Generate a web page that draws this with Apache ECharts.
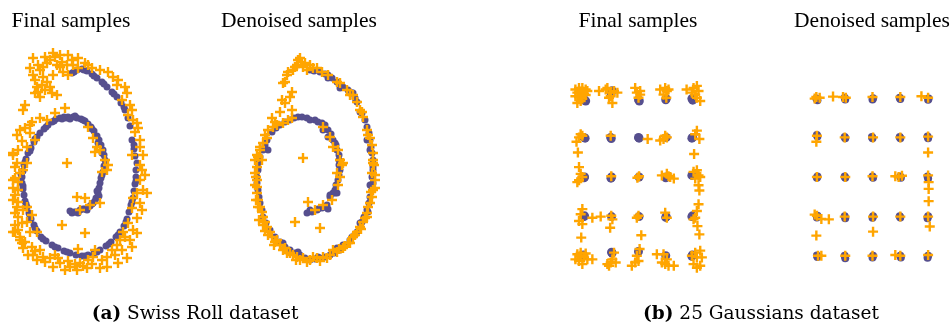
<!DOCTYPE html>
<html>
<head>
<meta charset="utf-8">
<script src="https://cdn.jsdelivr.net/npm/echarts@6/dist/echarts.min.js"></script>
<style>
  html, body { margin: 0; padding: 0; background: #ffffff; }
  #chart { width: 952px; height: 325px; }
</style>
</head>
<body>
<div id="chart"></div>
<script>
// ---- Panel titles and captions ----
const panelTitles = ['Final samples', 'Denoised samples', 'Final samples', 'Denoised samples'];
const captionA = ['(a)', 'Swiss Roll dataset'];
const captionB = ['(b)', '25 Gaussians dataset'];

// ---- Swiss roll: final samples ----
const swissFinalData = [
  [-0.08,-0.48],[-0.06,-0.47],[-0.04,-0.47],[0.00,-0.45],[0.03,-0.44],[0.05,-0.44],[0.10,-0.41],[0.13,-0.38],
  [0.16,-0.33],[0.18,-0.28],[0.17,-0.26],[0.19,-0.23],[0.20,-0.18],[0.21,-0.13],[0.23,-0.07],[0.24,-0.01],
  [0.25,0.05],[0.24,0.10],[0.23,0.15],[0.21,0.20],[0.19,0.25],[0.17,0.29],[0.14,0.34],[0.11,0.38],
  [0.08,0.41],[0.05,0.44],[0.01,0.46],[-0.03,0.47],[-0.07,0.48],[-0.12,0.48],[-0.14,0.47],[-0.16,0.48],
  [-0.20,0.47],[-0.24,0.46],[-0.28,0.43],[-0.32,0.40],[-0.36,0.36],[-0.40,0.32],[-0.43,0.28],[-0.46,0.23],
  [-0.49,0.17],[-0.52,0.12],[-0.54,0.06],[-0.56,0.00],[-0.57,-0.06],[-0.58,-0.12],[-0.58,-0.18],[-0.57,-0.24],
  [-0.56,-0.30],[-0.55,-0.36],[-0.53,-0.42],[-0.51,-0.48],[-0.49,-0.54],[-0.46,-0.60],[-0.43,-0.66],[-0.39,-0.72],
  [-0.34,-0.76],[-0.28,-0.80],[-0.22,-0.83],[-0.16,-0.86],[-0.10,-0.88],[-0.04,-0.90],[0.02,-0.91],[0.08,-0.90],
  [0.14,-0.88],[0.20,-0.85],[0.26,-0.81],[0.31,-0.77],[0.36,-0.72],[0.40,-0.67],[0.44,-0.61],[0.47,-0.54],
  [0.49,-0.47],[0.51,-0.40],[0.53,-0.33],[0.54,-0.26],[0.55,-0.19],[0.56,-0.12],[0.56,-0.05],[0.57,0.02],
  [0.55,0.09],[0.54,0.16],[0.52,0.25],[0.50,0.39],[0.48,0.47],[0.45,0.55],[0.41,0.62],[0.37,0.68],
  [0.32,0.73],[0.27,0.78],[0.22,0.83],[0.17,0.87],[0.12,0.91],[0.07,0.94],[0.02,0.96],[-0.03,0.95],[-0.08,0.92],
  [-0.10,-0.46],[-0.02,-0.48],[0.07,-0.45],[0.12,-0.39],[0.15,-0.36],[0.19,-0.31],[0.22,-0.10],[0.25,0.00],
  [0.22,0.12],[0.18,0.22],[0.12,0.36],[0.03,0.45],[-0.05,0.49],[-0.10,0.46],[-0.18,0.46],[-0.26,0.44],
  [-0.34,0.38],[-0.45,0.26],[-0.50,0.14],[-0.55,0.03],[-0.59,-0.09],[-0.57,-0.21],[-0.54,-0.39],[-0.50,-0.51],
  [-0.45,-0.63],[-0.37,-0.74],[-0.25,-0.82],[-0.13,-0.87],[0.05,-0.91],[0.17,-0.87],[0.29,-0.79],[0.38,-0.70],
  [0.46,-0.57],[0.52,-0.37],[0.56,-0.16],[0.54,0.20],[0.44,0.58],[0.34,0.71],[0.24,0.81],[0.14,0.89],
  [0.04,0.95],[-0.06,0.93]
];
const swissFinalSamples = [
  [-0.47,1.07],[-0.27,1.12],[-0.25,1.08],[-0.12,1.10],[-0.02,1.07],[0.05,1.02],[0.08,1.00],[-0.50,0.97],
  [-0.47,0.90],[-0.42,1.00],[-0.37,0.98],[-0.33,1.02],[-0.30,1.05],[-0.23,1.00],[-0.18,1.03],[-0.13,1.00],
  [-0.07,1.00],[-0.02,0.97],[-0.17,0.93],[-0.12,0.90],[-0.27,0.90],[-0.37,0.88],[-0.33,0.83],[-0.38,0.80],
  [-0.43,0.78],[-0.30,0.78],[-0.28,0.72],[-0.23,0.70],[-0.40,0.68],[-0.45,0.72],[-0.42,0.73],[-0.20,1.10],
  [-0.35,1.08],
  [0.20,0.95],[0.28,0.93],[0.37,0.80],[0.38,0.85],[0.47,0.72],[0.42,0.65],[0.50,0.60],[0.52,0.55],
  [0.48,0.50],[0.53,0.45],[0.58,0.37],[0.55,0.33],[0.60,0.25],[0.60,0.18],[0.63,0.10],[0.52,0.10],
  [0.60,0.00],[0.65,-0.10],[0.60,-0.15],[0.63,-0.25],[0.57,-0.28],[0.67,-0.28],[0.53,-0.33],[0.60,-0.38],
  [0.52,-0.43],[0.57,-0.53],[0.48,-0.58],[0.53,-0.65],[0.43,-0.67],[0.40,-0.75],[0.50,-0.75],[0.52,-0.82],
  [0.37,-0.80],[0.35,-0.90],[0.47,-0.93],[0.38,-0.98],[0.27,-0.92],[0.27,-1.02],[0.20,-1.03],[0.13,-0.92],
  [0.15,-0.85],[0.08,-0.95],[0.07,-1.03],[0.00,-0.98],[-0.03,-1.05],[-0.10,-1.02],[-0.15,-1.05],[-0.20,-0.98],
  [-0.27,-1.02],[-0.30,-0.93],[-0.25,-0.90],[-0.37,-0.92],[-0.40,-0.85],[-0.43,-0.95],[-0.47,-0.90],[-0.52,-0.90],
  [-0.48,-0.82],[-0.57,-0.83],[-0.55,-0.77],[-0.60,-0.72],[-0.65,-0.67],[-0.62,-0.65],[-0.50,-0.67],[-0.43,-0.67],
  [-0.65,-0.60],[-0.58,-0.58],[-0.53,-0.57],[-0.48,-0.50],[-0.57,-0.45],[-0.53,-0.42],[-0.62,-0.37],[-0.65,-0.30],
  [-0.62,-0.25],[-0.67,-0.23],[-0.62,-0.17],[-0.65,-0.13],[-0.57,-0.05],[-0.63,0.02],[-0.53,0.02],[-0.67,0.12],
  [-0.65,-0.02],[-0.67,-0.15],[-0.67,-0.35],[-0.65,-0.48],[-0.67,-0.67],[-0.60,-0.75],
  [-0.15,0.57],[-0.25,0.52],[-0.33,0.45],[-0.40,0.47],[-0.48,0.43],[-0.57,0.55],[-0.55,0.37],[-0.60,0.35],
  [-0.50,0.32],[-0.45,0.25],[-0.62,0.15],[-0.67,0.10],[-0.53,0.18],[-0.55,0.60],
  [0.08,0.38],[0.13,0.27],[0.17,0.18],[0.20,0.15],[0.15,0.13],[0.25,0.05],[0.28,0.00],[0.22,-0.07],[0.27,-0.05],
  [-0.13,0.02],[-0.03,-0.32],[0.05,-0.33],[0.10,-0.40],[0.00,-0.45],[0.20,-0.38],[-0.18,-0.60],[0.05,-0.68],[-0.02,-0.84],
  [-0.58,-0.78],[-0.45,-0.86],[-0.35,-0.97],[-0.22,-0.93],[-0.12,-0.96],[-0.05,-0.99],[0.03,-1.01],[0.12,-0.99],
  [0.22,-0.95],[0.32,-0.85],[0.42,-0.85],[0.45,-0.72],[-0.62,-0.52],[-0.60,-0.08],[-0.63,-0.42],[-0.58,0.24],
  [-0.63,0.30],[-0.50,0.40],[-0.20,0.98],[-0.08,1.05],[-0.40,0.95],[-0.45,0.85],[-0.35,0.75],[0.12,0.97],
  [0.33,0.88],[0.45,0.78],[0.57,0.42],[0.62,-0.05],[0.62,-0.45],[0.57,-0.68]
];

// ---- Swiss roll: denoised samples ----
const swissDenoisedData = [
  [-0.13,-0.48],[-0.08,-0.47],[-0.03,-0.45],[0.02,-0.43],[0.07,-0.40],[0.08,-0.44],[-0.10,-0.45],[0.10,-0.32],
  [0.13,-0.28],[0.15,-0.25],[0.17,-0.28],[0.18,-0.15],[0.20,-0.05],[0.19,0.05],[0.17,0.15],[0.13,0.25],
  [0.08,0.35],[0.02,0.42],[-0.05,0.45],[-0.13,0.47],[-0.22,0.48],[-0.18,0.48],[-0.10,0.45],[0.03,0.35],
  [0.15,0.22],[-0.30,0.45],[-0.40,0.40],[-0.48,0.33],[-0.53,0.25],[-0.52,0.15],[-0.57,0.15],[-0.62,0.02],
  [-0.63,-0.12],[-0.62,-0.25],[-0.60,-0.38],[-0.57,-0.52],[-0.50,-0.65],[-0.40,-0.77],[-0.37,-0.78],[-0.30,-0.85],
  [-0.20,-0.90],[-0.22,-0.87],[-0.10,-0.95],[0.00,-0.93],[-0.02,-0.92],[0.10,-0.90],[0.17,-0.83],[0.20,-0.85],
  [0.23,-0.80],[0.30,-0.75],[0.32,-0.72],[0.37,-0.67],[0.40,-0.58],[0.42,-0.57],[0.47,-0.45],[0.48,-0.47],
  [0.50,-0.32],[0.50,-0.20],[0.53,-0.18],[0.52,-0.12],[0.53,-0.05],[0.53,-0.02],[0.52,0.12],[0.50,0.25],
  [0.47,0.25],[0.50,0.15],[0.47,0.38],[0.42,0.52],[0.40,0.53],[0.37,0.63],[0.35,0.67],[0.33,0.72],[0.32,0.72],
  [0.23,0.78],[0.20,0.77],[0.17,0.83],[0.08,0.90],[0.05,0.91],[0.08,0.87],[-0.10,0.95],
  [-0.02,0.43],[0.08,0.28],[0.10,-0.30],[0.15,-0.28],[-0.02,-0.44],
  [-0.55,0.20],[-0.60,0.08],[-0.62,-0.05],[-0.63,-0.18],[-0.61,-0.32],[-0.58,-0.45],[-0.54,-0.58],[-0.45,-0.72],
  [-0.35,-0.82],[-0.25,-0.88],[-0.15,-0.93],[-0.05,-0.94],[0.05,-0.92],[0.14,-0.88],[0.26,-0.80],[0.35,-0.70],
  [0.44,-0.52],[0.49,-0.38],[0.52,-0.25],[0.53,0.05],[0.51,0.18],[0.49,0.32],[0.45,0.45],[0.28,0.75],
  [0.12,0.87],[0.00,0.93],[-0.06,0.94],[-0.35,0.43],[-0.44,0.37],[-0.26,0.47],[0.05,0.40],[0.11,0.31],
  [0.16,0.20],[0.19,0.10],[0.19,0.00],[0.19,-0.10],[0.16,-0.20],[0.05,-0.42]
];
const swissDenoisedSamples = [
  [-0.22,1.05],[-0.23,1.00],[-0.17,0.98],[-0.10,1.00],[-0.03,0.97],[0.02,0.93],[-0.27,0.95],[-0.32,0.93],
  [-0.33,0.90],[-0.35,0.83],[-0.37,0.82],[-0.28,0.73],[-0.30,0.68],[-0.38,0.65],[-0.35,0.62],[-0.40,0.53],
  [-0.28,0.55],[-0.28,0.47],[-0.48,0.47],[-0.47,0.38],[-0.52,0.35],[-0.43,0.40],[-0.37,0.42],[-0.32,0.45],
  [-0.53,0.27],[-0.57,0.22],[-0.60,0.15],[-0.62,0.08],[-0.58,0.05],[-0.15,1.02],[-0.20,1.07],[-0.07,0.97],
  [-0.13,0.95],
  [-0.17,0.07],[-0.12,-0.37],[-0.25,-0.57],[0.00,-0.63],[0.12,-0.35],[-0.05,-0.45],[0.03,-0.40],
  [0.08,0.90],[0.17,0.83],[0.27,0.75],[0.30,0.70],[0.37,0.63],[0.40,0.55],[0.43,0.48],[0.47,0.35],
  [0.48,0.30],[0.52,0.20],[0.53,0.12],[0.53,0.05],
  [0.03,0.38],[0.10,0.28],[0.13,0.18],[0.18,0.15],[0.20,0.05],[0.22,0.00],[0.23,0.02],[0.17,-0.08],
  [0.20,-0.12],[0.18,-0.20],
  [0.53,0.02],[0.52,-0.08],[0.53,-0.25],[0.52,-0.32],[0.48,-0.42],[0.47,-0.48],[0.43,-0.57],[0.40,-0.62],
  [0.37,-0.67],[0.33,-0.72],[0.28,-0.78],[0.23,-0.83],[0.17,-0.87],[0.10,-0.90],[0.03,-0.92],[-0.03,-0.93],
  [-0.10,-0.95],[-0.17,-0.93],[-0.23,-0.92],[-0.30,-0.88],[-0.37,-0.85],[-0.40,-0.80],[-0.45,-0.77],[-0.48,-0.72],
  [-0.50,-0.67],[-0.53,-0.62],[-0.55,-0.57],[-0.57,-0.52],[-0.58,-0.47],[-0.60,-0.42],[-0.62,-0.35],[-0.63,-0.28],
  [-0.63,-0.22],[-0.63,-0.15],[-0.65,-0.08],[-0.63,-0.02],
  [-0.52,-0.70],[-0.43,-0.75],[-0.35,-0.83],[-0.27,-0.90],[-0.20,-0.95],[-0.13,-0.97],[-0.07,-0.92],[0.07,-0.93],
  [0.13,-0.85],[0.25,-0.81],[0.35,-0.70],[0.45,-0.53],[0.50,-0.38],[0.55,-0.23],[0.55,-0.10],[-0.57,-0.60],
  [-0.65,-0.20],[-0.65,0.05],
  [-0.64,-0.35],[-0.61,-0.55],[-0.55,-0.66],[-0.46,-0.80],[-0.33,-0.88],[-0.24,-0.95],[0.00,-0.96],[0.19,-0.84],
  [0.30,-0.78],[0.41,-0.64],[0.47,-0.52],[0.51,-0.27],[0.55,-0.15],[0.54,0.00],[0.50,0.27],[0.42,0.53],
  [0.33,0.70],[0.20,0.82],[-0.25,0.98],[-0.19,1.03],[-0.45,0.43],[-0.55,0.30],[-0.60,0.18],[-0.63,0.10],
  [-0.64,-0.12],[-0.62,-0.42]
];

// ---- 25 Gaussians: final samples ----
const gaussFinalData = [
  [-1.90,1.92],[-1.95,1.95],[-0.95,2.18],[-0.98,2.12],[0.00,1.95],[0.03,1.92],[1.00,1.98],[0.98,1.95],[1.95,1.94],[1.92,1.98],
  [-1.96,1.00],[-1.92,0.98],[-1.00,1.00],[-0.98,0.97],[0.00,1.00],[0.02,0.98],[1.00,1.00],[1.95,1.00],[1.92,0.98],
  [-1.94,0.00],[-1.96,-0.02],[-0.97,0.00],[-0.99,-0.03],[0.02,0.00],[1.00,0.00],[0.98,-0.02],[1.92,0.04],
  [-1.96,-1.00],[-1.94,-0.98],[-0.97,-1.00],[0.02,-1.00],[0.98,-1.02],[1.00,-1.00],[1.92,-1.00],[1.94,-0.98],
  [-1.98,-1.97],[-0.95,-1.92],[-0.97,-1.90],[0.00,-1.88],[0.98,-1.99],[1.92,-2.00],[1.94,-1.97]
];
const gaussFinalSamples = [
  [-2.27,2.21],[-2.14,2.25],[-2.02,2.25],[-1.90,2.21],[-2.20,2.13],[-2.08,2.15],[-1.96,2.10],[-1.84,2.17],
  [-2.14,2.02],[-2.02,1.98],[-2.27,2.04],[-2.20,1.87],[-2.08,1.92],[-1.90,2.07],[-1.42,2.17],
  [-1.12,2.25],[-1.00,2.13],[-0.88,2.17],[-0.76,2.13],[-1.06,2.00],[-0.94,1.87],[-1.18,2.21],[-1.00,2.04],
  [-0.12,2.25],[-0.06,2.13],[0.06,2.08],[0.00,2.00],[0.06,2.17],
  [0.78,2.21],[0.96,2.25],[1.02,2.17],[1.08,2.21],[0.90,2.08],[1.00,2.00],
  [1.73,2.21],[1.98,2.25],[2.10,2.30],[2.16,2.17],[2.04,2.08],[2.22,1.92],[2.10,2.00],[1.92,2.13],
  [-2.08,1.08],[-2.02,1.04],[-2.14,1.00],[-2.23,0.89],[-2.18,0.62],[-1.00,1.04],[0.33,0.96],
  [0.96,1.04],[0.78,0.92],[0.90,0.96],[1.02,1.00],[2.10,1.17],[2.04,1.08],[2.19,0.96],[2.00,0.58],
  [-2.14,0.25],[-2.08,0.08],[-2.02,0.00],[-2.14,-0.08],[-2.20,-0.13],[-0.98,0.02],[0.02,0.02],[-0.04,-0.02],
  [0.84,0.04],[1.02,0.08],[1.14,0.00],[1.27,-0.04],[1.08,0.02],
  [1.98,0.13],[2.10,0.17],[2.16,0.04],[2.04,-0.04],[2.22,0.00],[2.16,-0.21],[2.19,-0.34],
  [-2.02,-0.81],[-2.08,-0.94],[-2.14,-1.11],[-2.02,-1.19],[-1.66,-1.03],[-1.36,-1.00],[-2.06,-1.53],
  [-0.98,-0.98],[-0.94,-1.07],[-1.02,-1.28],[0.00,-0.98],[-0.06,-1.03],[0.10,-1.47],[0.96,-0.90],[1.02,-1.03],
  [2.16,-0.69],[2.10,-0.86],[2.04,-1.03],[1.98,-1.07],[2.12,-1.24],[2.19,-1.45],
  [-2.20,-1.95],[-2.08,-1.91],[-1.96,-2.03],[-2.14,-2.12],[-2.02,-2.20],[-1.84,-2.08],[-1.66,-2.08],[-2.27,-2.08],
  [-2.08,-1.99],[-1.90,-1.93],
  [-0.88,-1.91],[-0.94,-2.08],[-1.00,-2.16],[-1.06,-2.24],[-0.82,-2.16],[-1.12,-2.20],
  [0.04,-1.82],[-0.06,-1.99],[0.00,-2.12],[-0.12,-2.16],[-0.24,-2.24],
  [0.66,-1.95],[0.90,-1.95],[1.02,-2.08],[0.96,-2.20],[1.08,-2.24],[1.27,-2.24],[0.84,-2.16],
  [2.04,-1.91],[2.22,-1.86],[2.10,-2.03],[2.28,-2.03],[1.98,-2.20],[2.22,-2.24],[2.10,-2.29],[1.92,-1.99]
];

// ---- 25 Gaussians: denoised samples ----
const gaussDenoisedData = [
  [-1.98,1.94],[-2.02,1.98],[-0.98,1.96],[-1.00,2.00],[0.00,1.96],[0.02,1.99],[1.00,1.97],[0.98,2.00],[2.00,1.95],[2.02,1.98],
  [-2.00,1.06],[-1.98,1.02],[-0.98,0.98],[-1.00,1.01],[0.00,0.98],[-0.02,1.01],[1.00,0.98],[0.98,1.01],[2.00,0.98],[1.98,1.02],
  [-2.00,-0.02],[-1.98,0.01],[-0.98,-0.02],[-1.00,0.01],[0.02,-0.02],[0.00,0.01],[1.02,-0.02],[1.00,0.01],[2.00,-0.04],[1.98,0.01],
  [-2.00,-1.02],[-1.98,-0.98],[-0.98,-1.04],[-1.00,-0.99],[0.00,-1.03],[0.02,-0.99],[1.00,-1.02],[0.98,-0.99],[1.98,-1.04],[2.00,-0.99],
  [-1.98,-2.02],[-2.00,-1.98],[-0.98,-2.05],[-1.00,-1.99],[0.00,-2.03],[0.02,-1.99],[1.02,-2.03],[1.00,-1.99],[1.98,-2.04],[2.00,-1.99]
];
const gaussDenoisedSamples = [
  [-2.02,2.02],[-1.90,2.00],[-2.08,1.98],[-1.42,2.03],[-1.06,2.02],[-0.96,2.00],[0.00,2.02],[1.00,2.02],[1.76,2.04],[2.00,2.00],
  [-2.00,1.04],[-2.02,0.89],[-1.00,1.00],[0.02,1.00],[1.00,1.00],[2.00,1.02],[2.00,0.62],
  [-2.00,0.00],[-0.98,0.00],[0.00,0.02],[0.82,0.02],[1.06,0.03],[0.94,0.00],[2.00,0.04],[2.02,-0.13],[2.02,-0.30],[2.02,-0.61],
  [-2.00,-0.98],[-1.84,-1.06],[-1.57,-1.07],[-2.02,-1.48],[-1.00,-1.00],[0.02,-1.00],[0.02,-1.38],[1.00,-1.00],[2.00,-1.00],
  [2.06,-1.25],[-2.08,-0.95],
  [-1.96,-1.99],[-1.84,-1.99],[-0.98,-1.99],[0.00,-1.99],[0.82,-1.97],[1.00,-1.99],[2.00,-1.97]
];

const DATA_COLOR = '#564f8e';
const SAMPLE_COLOR = '#ffa500';
const PLUS = 'path://M3.8,0H6.2V10H3.8Z M0,3.8H10V6.2H0Z';

const chart = echarts.init(document.getElementById('chart'), null, { renderer: 'canvas' });

const grids = [
  { left: 0,   top: 45, width: 160, height: 240 },
  { left: 240, top: 45, width: 160, height: 240 },
  { left: 569, top: 78, width: 139, height: 198 },
  { left: 803, top: 78, width: 139, height: 198 }
];
const xRanges = [[-0.8, 0.8], [-0.8, 0.8], [-2.5, 2.5], [-2.5, 2.5]];
const yRanges = [[-1.2, 1.2], [-1.2, 1.2], [-2.5, 2.5], [-2.5, 2.5]];

const hiddenAxis = (range, i) => ({
  type: 'value', gridIndex: i, min: range[0], max: range[1], show: false
});

function dataSeries(data, i, size) {
  return {
    type: 'scatter', xAxisIndex: i, yAxisIndex: i, data: data,
    symbol: 'circle', symbolSize: size, silent: true, z: 2,
    itemStyle: { color: DATA_COLOR, opacity: 1 }
  };
}
function sampleSeries(data, i, size) {
  return {
    type: 'scatter', xAxisIndex: i, yAxisIndex: i, data: data,
    symbol: PLUS, symbolSize: size, silent: true, z: 3,
    itemStyle: { color: SAMPLE_COLOR, opacity: 1 }
  };
}

const serif = '"Liberation Serif", "Times New Roman", serif';
const titleCenters = [71, 299, 638, 872];

const graphic = panelTitles.map((t, i) => ({
  type: 'text', x: titleCenters[i], y: 21,
  style: { text: t, textAlign: 'center', textVerticalAlign: 'middle',
           fontFamily: serif, fontSize: 21.5, fill: '#000' }
}));

function caption(parts, cx) {
  return {
    type: 'text', x: cx, y: 314,
    style: {
      text: '{b|' + parts[0] + '} ' + parts[1],
      textAlign: 'center', textVerticalAlign: 'middle',
      fontFamily: '"DejaVu Serif", serif', fontSize: 18.5, fill: '#000',
      rich: { b: { fontWeight: 'bold', fontFamily: '"DejaVu Serif", serif', fontSize: 18.5 } }
    }
  };
}
graphic.push(caption(captionA, 195));
graphic.push(caption(captionB, 761));

chart.setOption({
  animation: false,
  backgroundColor: '#ffffff',
  grid: grids,
  xAxis: xRanges.map(hiddenAxis),
  yAxis: yRanges.map(hiddenAxis),
  graphic: graphic,
  series: [
    dataSeries(swissFinalData, 0, 7),
    sampleSeries(swissFinalSamples, 0, 10),
    dataSeries(swissDenoisedData, 1, 7),
    sampleSeries(swissDenoisedSamples, 1, 10),
    dataSeries(gaussFinalData, 2, 9),
    sampleSeries(gaussFinalSamples, 2, 10),
    dataSeries(gaussDenoisedData, 3, 8),
    sampleSeries(gaussDenoisedSamples, 3, 10)
  ]
});
</script>
</body>
</html>
